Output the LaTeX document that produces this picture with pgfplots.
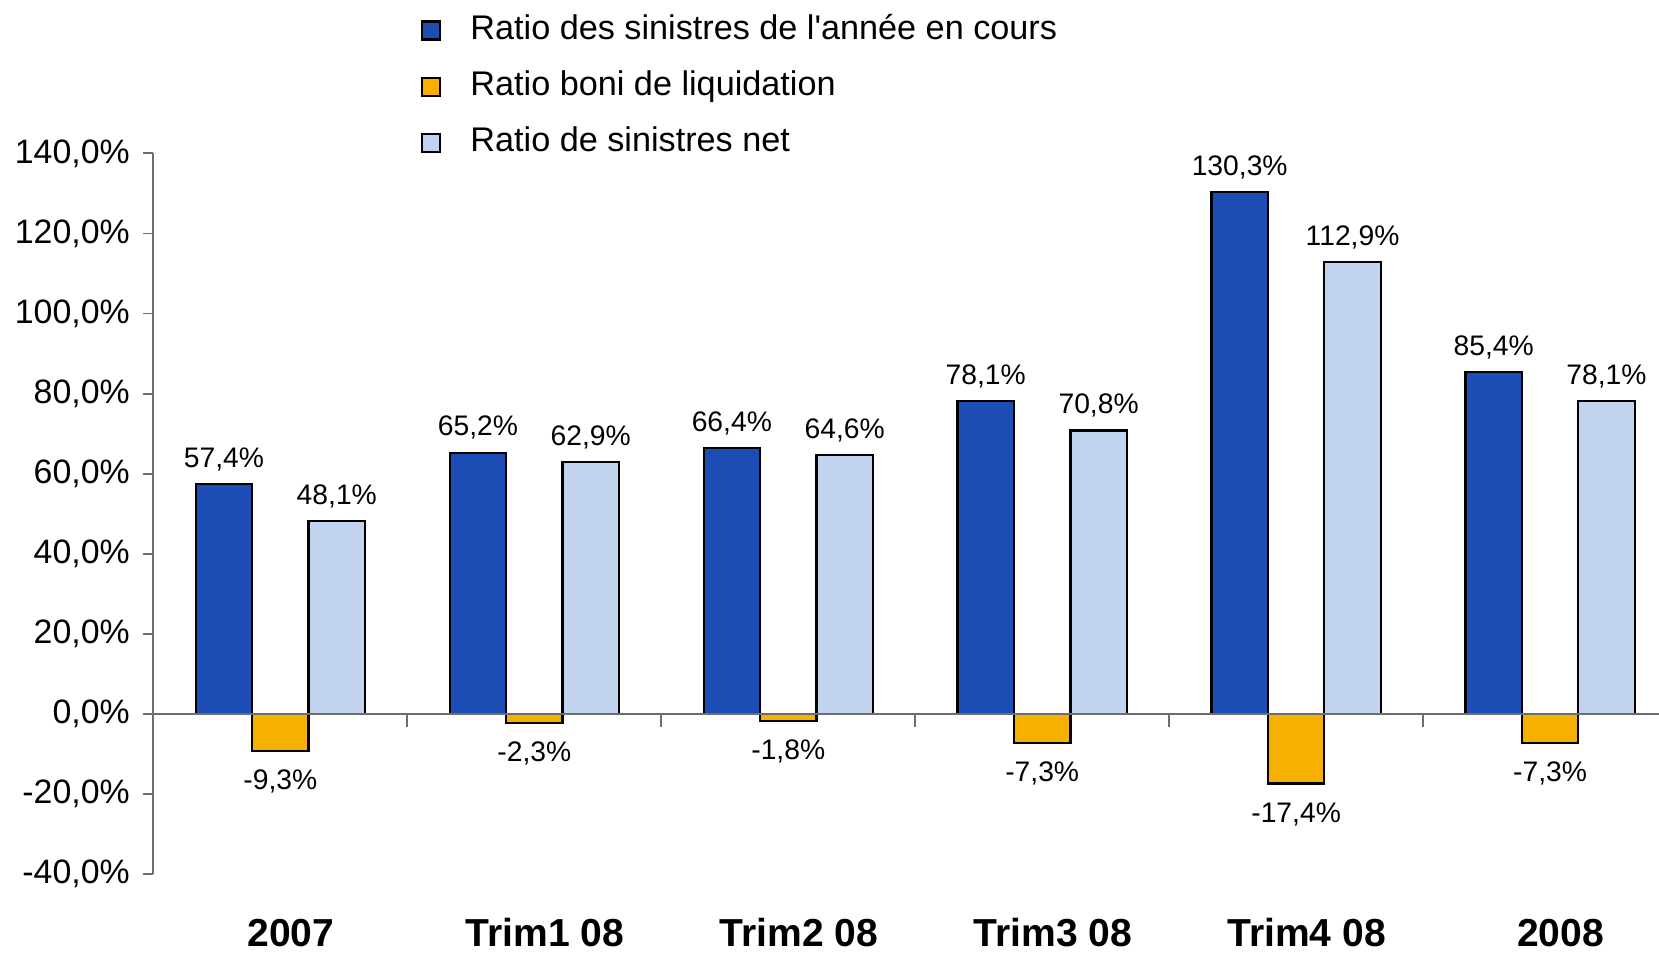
\documentclass[border=0pt]{standalone}
\usepackage{fontspec}
\setmainfont{Liberation Sans}
\usepackage{pgfplots}
\pgfplotsset{compat=1.18}

\definecolor{curYear}{HTML}{1C4DB5}
\definecolor{boni}{HTML}{F8B000}
\definecolor{netRatio}{HTML}{C2D3EF}
\definecolor{axisGray}{HTML}{6E6E6E}

\begin{document}
\begin{tikzpicture}
\begin{axis}[
    at={(0,0)}, anchor=south west,
    scale only axis, width=142.3mm, height=68.1mm,
    xmin=-0.5, xmax=5.429, ymin=-40, ymax=140,
    ybar, bar width=0.2222,
    axis x line*=bottom, axis y line*=left,
    x axis line style={draw=none},
    y axis line style={axisGray, line width=0.5pt},
    xtick={0,...,5},
    xticklabels={2007, Trim1 08, Trim2 08, Trim3 08, Trim4 08, 2008},
    xtick style={draw=none},
    xticklabel style={anchor=base, inner sep=0pt, yshift=-5.85mm, xshift=1mm,
        font=\fontsize{10.5pt}{12pt}\selectfont\bfseries},
    ytick={-40,-20,...,140},
    ytick style={axisGray, line width=0.5pt},
    tick align=outside, major tick length=1mm,
    /pgf/number format/assume math mode=true,
    yticklabel={\pgfmathprintnumber[fixed,fixed zerofill,precision=1,use comma]{\tick}\%},
    yticklabel style={font=\fontsize{9.1pt}{11pt}\selectfont},
    nodes near coords={\pgfmathprintnumber[fixed,fixed zerofill,precision=1,use comma]{\pgfplotspointmeta}\%},
    nodes near coords style={font=\fontsize{7.6pt}{9pt}\selectfont, inner sep=0pt},
    legend image code/.code={\draw[#1, line width=0.6pt] (0mm,-0.85mm) rectangle (1.7mm,0.85mm);},
    legend style={at={(0.177,1.2016)}, anchor=north west, draw=none, fill=none,
        inner sep=0pt, row sep=1.2mm,
        font=\fontsize{9.2pt}{11pt}\selectfont,
        nodes={inner sep=0.5mm, text height=2.4mm, text depth=0.7mm},
        /tikz/every odd column/.append style={column sep=2.3mm}},
    legend cell align=left,
    clip=false,
]
\addplot[draw=black, line width=0.6pt, fill=curYear, bar shift=-0.2222,
    nodes near coords style={yshift=1.15mm}]
    coordinates {(0,57.4) (1,65.2) (2,66.4) (3,78.1) (4,130.3) (5,85.4)};
\addlegendentry{Ratio des sinistres de l\textquotesingle année en cours}
\addplot[draw=black, line width=0.6pt, fill=boni, bar shift=0,
    nodes near coords style={yshift=-1.7mm}]
    coordinates {(0,-9.3) (1,-2.3) (2,-1.8) (3,-7.3) (4,-17.4) (5,-7.3)};
\addlegendentry{Ratio boni de liquidation}
\addplot[draw=black, line width=0.6pt, fill=netRatio, bar shift=0.2222,
    nodes near coords style={yshift=1.15mm}]
    coordinates {(0,48.1) (1,62.9) (2,64.6) (3,70.8) (4,112.9) (5,78.1)};
\addlegendentry{Ratio de sinistres net}

% zero line with ticks between the categories
\draw[axisGray, line width=0.5pt] (axis cs:-0.5,0) -- (axis cs:5.429,0);
\draw[axisGray, line width=0.5pt] (axis cs:0.5,0) -- (axis cs:0.5,-3.2);
\draw[axisGray, line width=0.5pt] (axis cs:1.5,0) -- (axis cs:1.5,-3.2);
\draw[axisGray, line width=0.5pt] (axis cs:2.5,0) -- (axis cs:2.5,-3.2);
\draw[axisGray, line width=0.5pt] (axis cs:3.5,0) -- (axis cs:3.5,-3.2);
\draw[axisGray, line width=0.5pt] (axis cs:4.5,0) -- (axis cs:4.5,-3.2);
\end{axis}
\pgfresetboundingbox
\path[use as bounding box] (-14.5mm,-7.6mm) rectangle (142.3mm,82.6mm);
\end{tikzpicture}
\end{document}
